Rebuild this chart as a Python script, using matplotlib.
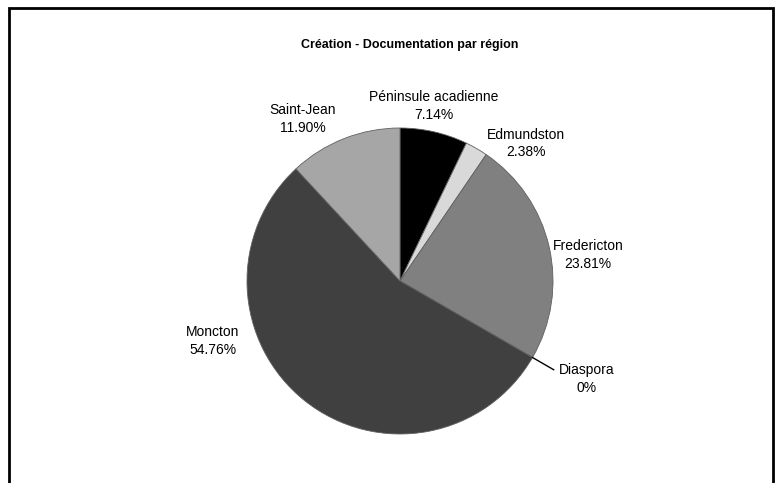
import numpy as np
import matplotlib
matplotlib.use("Agg")
import matplotlib.pyplot as plt
from matplotlib.patches import Rectangle

plt.rcParams['font.family'] = ['Liberation Sans Narrow', 'Liberation Sans', 'DejaVu Sans']

# données : nombre de créations par région
regions = ['Péninsule acadienne', 'Edmundston', 'Fredericton', 'Diaspora', 'Moncton', 'Saint-Jean']
nombres = [3, 1, 10, 0, 23, 5]
couleurs = ['#000000', '#d9d9d9', '#808080', '#ffffff', '#404040', '#a6a6a6']
titre = 'Création - Documentation par région'

# placement des étiquettes (angle en degrés, distance en rayons)
pos_etiquettes = [(79, 1.165), (47.6, 1.22), (7.9, 1.24), (-27.7, 1.38), (197.8, 1.285), (120.9, 1.235)]

total = sum(nombres)
pourcents = [100.0 * n / total for n in nombres]

fig = plt.figure(figsize=(7.79, 4.83), dpi=100)
ax = fig.add_axes([0, 0, 1, 1])

wedges, _ = ax.pie(nombres, colors=couleurs, startangle=90, counterclock=False,
                   wedgeprops=dict(edgecolor='#606060', linewidth=0.6))

for nom, p, w, (ang, dist) in zip(regions, pourcents, wedges, pos_etiquettes):
    txt = f'{p:.2f}%' if p > 0 else '0%'
    a = np.deg2rad(ang)
    ax.text(dist * np.cos(a), dist * np.sin(a), f'{nom}\n{txt}', ha='center', va='center',
            fontsize=10, linespacing=1.3, color='black')
    if p == 0:
        # trait de rappel pour la part nulle
        t = np.deg2rad((w.theta1 + w.theta2) / 2)
        ax.plot([np.cos(t), 1.16 * np.cos(t)], [np.sin(t), 1.16 * np.sin(t)],
                color='black', lw=1)

# 1 unité = 153 px, centre de la tarte à (400, 281)
r = 153.0
ax.set_xlim(-400 / r, (779 - 400) / r)
ax.set_ylim((281 - 483) / r, 281 / r)
ax.axis('off')

fig.text(410 / 779, 1 - 45 / 483, titre, ha='center', va='center', fontsize=9, fontweight='bold')

# cadre du graphique
fig.add_artist(Rectangle((9 / 779, -0.05), (773 - 9) / 779, 1 - 8 / 483 + 0.05,
                         transform=fig.transFigure, fill=False, edgecolor='black', lw=2))

fig.savefig('out.png', dpi=100, facecolor='white')
